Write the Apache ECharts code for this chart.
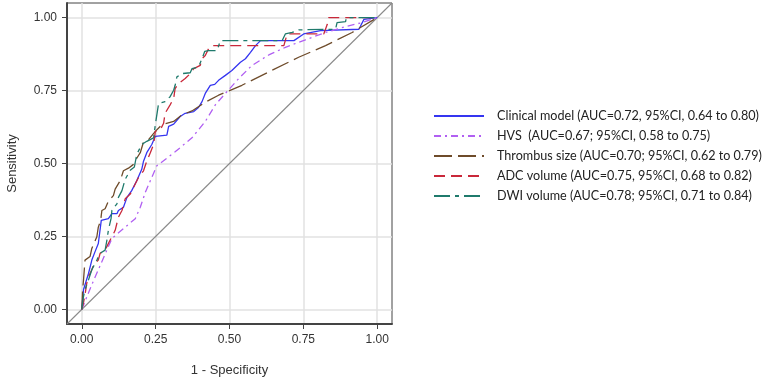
<!DOCTYPE html>
<html>
<head>
<meta charset="utf-8">
<script src="https://cdn.jsdelivr.net/npm/echarts@6/dist/echarts.min.js"></script>
<style>
html, body { margin: 0; padding: 0; background: #fff; }
#chart { width: 765px; height: 382px; }
</style>
</head>
<body>
<div id="chart"></div>
<script>
// tick labels shared by both axes
const tickValues = [0, 0.25, 0.5, 0.75, 1];

const seriesNames = [
  'Clinical model (AUC=0.72, 95%CI, 0.64 to 0.80)',
  'HVS  (AUC=0.67; 95%CI, 0.58 to 0.75)',
  'Thrombus size (AUC=0.70; 95%CI, 0.62 to 0.79)',
  'ADC volume (AUC=0.75, 95%CI, 0.68 to 0.82)',
  'DWI volume (AUC=0.78; 95%CI, 0.71 to 0.84)'
];

// [1 - specificity, sensitivity]
const clinical = [
  [0, 0], [0.006, 0.068], [0.023, 0.124], [0.034, 0.169], [0.045, 0.198], [0.056, 0.226],
  [0.066, 0.305], [0.090, 0.311], [0.102, 0.328], [0.119, 0.328], [0.124, 0.339], [0.141, 0.350],
  [0.153, 0.384], [0.169, 0.407], [0.186, 0.441], [0.203, 0.480], [0.209, 0.508], [0.220, 0.537],
  [0.237, 0.565], [0.249, 0.593], [0.288, 0.597], [0.294, 0.627], [0.311, 0.635], [0.333, 0.661],
  [0.350, 0.672], [0.379, 0.678], [0.395, 0.692], [0.407, 0.712], [0.418, 0.740], [0.435, 0.768],
  [0.450, 0.771], [0.463, 0.785], [0.486, 0.802], [0.508, 0.819], [0.537, 0.847], [0.554, 0.859],
  [0.571, 0.881], [0.588, 0.904], [0.605, 0.921], [0.718, 0.921], [0.751, 0.944], [0.808, 0.955],
  [0.814, 0.960], [0.938, 0.960], [0.955, 0.994], [1, 1]
];

const hvs = [
  [0, 0], [0.011, 0.028], [0.034, 0.085], [0.056, 0.136], [0.102, 0.243], [0.147, 0.282],
  [0.181, 0.311], [0.198, 0.350], [0.215, 0.401], [0.232, 0.441], [0.254, 0.492], [0.316, 0.540],
  [0.373, 0.588], [0.418, 0.644], [0.452, 0.701], [0.486, 0.740], [0.531, 0.791], [0.576, 0.836],
  [0.633, 0.872], [0.689, 0.898], [0.757, 0.924], [0.825, 0.949], [0.893, 0.969], [0.949, 0.983],
  [1, 1]
];

const thrombus = [
  [0, 0], [0.003, 0.068], [0.006, 0.102], [0.011, 0.169], [0.028, 0.181], [0.034, 0.209],
  [0.051, 0.249], [0.056, 0.282], [0.064, 0.305], [0.068, 0.339], [0.079, 0.345], [0.090, 0.371],
  [0.107, 0.390], [0.113, 0.412], [0.130, 0.441], [0.141, 0.475], [0.158, 0.484], [0.175, 0.497],
  [0.186, 0.518], [0.198, 0.537], [0.209, 0.574], [0.226, 0.582], [0.249, 0.610], [0.271, 0.633],
  [0.311, 0.644], [0.339, 0.667], [0.373, 0.680], [0.418, 0.710], [0.463, 0.734], [0.542, 0.768],
  [0.633, 0.814], [0.734, 0.864], [0.825, 0.904], [0.915, 0.949], [1, 1]
];

const adc = [
  [0, 0], [0.006, 0.023], [0.011, 0.051], [0.017, 0.090], [0.023, 0.113], [0.034, 0.136],
  [0.040, 0.153], [0.056, 0.169], [0.062, 0.192], [0.079, 0.203], [0.090, 0.226], [0.102, 0.249],
  [0.113, 0.271], [0.124, 0.316], [0.136, 0.339], [0.147, 0.379], [0.164, 0.395], [0.175, 0.418],
  [0.192, 0.452], [0.209, 0.475], [0.220, 0.508], [0.232, 0.537], [0.243, 0.565], [0.249, 0.610],
  [0.266, 0.616], [0.277, 0.638], [0.282, 0.672], [0.299, 0.701], [0.311, 0.723], [0.316, 0.757],
  [0.328, 0.774], [0.350, 0.791], [0.367, 0.808], [0.379, 0.825], [0.401, 0.836], [0.407, 0.859],
  [0.418, 0.870], [0.429, 0.893], [0.441, 0.904], [0.684, 0.904], [0.695, 0.944], [0.819, 0.944],
  [0.831, 0.977], [0.836, 1], [1, 1]
];

const dwi = [
  [0, 0], [0.006, 0.045], [0.011, 0.068], [0.023, 0.102], [0.034, 0.136], [0.051, 0.169],
  [0.062, 0.192], [0.079, 0.203], [0.085, 0.237], [0.090, 0.271], [0.099, 0.311], [0.102, 0.339],
  [0.119, 0.362], [0.124, 0.384], [0.136, 0.407], [0.147, 0.446], [0.164, 0.477], [0.178, 0.488],
  [0.186, 0.531], [0.203, 0.565], [0.220, 0.576], [0.243, 0.588], [0.249, 0.633], [0.260, 0.706],
  [0.282, 0.712], [0.299, 0.729], [0.311, 0.751], [0.316, 0.768], [0.322, 0.797], [0.339, 0.808],
  [0.367, 0.811], [0.373, 0.825], [0.395, 0.831], [0.407, 0.859], [0.416, 0.884], [0.429, 0.887],
  [0.458, 0.887], [0.469, 0.921], [0.678, 0.921], [0.689, 0.944], [0.712, 0.949], [0.734, 0.958],
  [0.859, 0.960], [0.864, 0.983], [0.893, 0.986], [0.895, 1], [1, 1]
];

// reference diagonal, corner to corner
const diagonal = [[-0.05, -0.05], [1.05, 1.05]];

const curveData = [clinical, hvs, thrombus, adc, dwi];
const curveColors = ['#3535f0', '#b160f2', '#6e4b2a', '#c9283a', '#1f7a6c'];
const curveDash = ['solid', [7, 4, 2, 4], [18, 6], [11, 6], [16, 5, 4, 5]];

const chart = echarts.init(document.getElementById('chart'));

function valueAxis(name, nameGap) {
  return {
    type: 'value',
    min: -0.05,
    max: 1.05,
    name: name,
    nameLocation: 'middle',
    nameGap: nameGap,
    nameTextStyle: { fontFamily: 'Liberation Sans', fontSize: 13, color: '#333' },
    axisLine: { show: true, onZero: false, lineStyle: { color: '#444', width: 2 } },
    axisTick: { show: true, length: 5, customValues: tickValues, lineStyle: { color: '#444', width: 1 } },
    axisLabel: {
      customValues: tickValues,
      margin: 10,
      fontFamily: 'Liberation Sans',
      fontSize: 12,
      color: '#333',
      formatter: v => v.toFixed(2)
    },
    splitLine: { show: true, lineStyle: { color: '#e2e2e2', width: 1.5 } }
  };
}

const series = curveData.map((d, i) => ({
  name: seriesNames[i],
  type: 'line',
  data: d,
  symbol: 'none',
  z: 3 + i,
  lineStyle: { color: curveColors[i], width: 1.3, type: curveDash[i] },
  itemStyle: { color: curveColors[i] }
}));

series.unshift({
  name: 'diagonal',
  type: 'line',
  data: diagonal,
  symbol: 'none',
  z: 2,
  lineStyle: { color: '#8a8a8a', width: 1.1 }
});

chart.setOption({
  animation: false,
  grid: {
    left: 67, top: 3, width: 325, height: 325,
    show: true, borderColor: '#444', borderWidth: 1
  },
  xAxis: valueAxis('1 - Specificity', 40),
  yAxis: valueAxis('Sensitivity', 48),
  legend: {
    data: seriesNames,
    orient: 'vertical',
    left: 433,
    top: 109,
    padding: 0,
    itemWidth: 50,
    itemHeight: 14,
    itemGap: 6,
    itemStyle: { opacity: 0 },
    textStyle: {
      fontFamily: 'Lato', fontSize: 12.6, color: '#222',
      lineHeight: 14, padding: [0, 0, 0, 8]
    }
  },
  series: series
});
</script>
</body>
</html>
